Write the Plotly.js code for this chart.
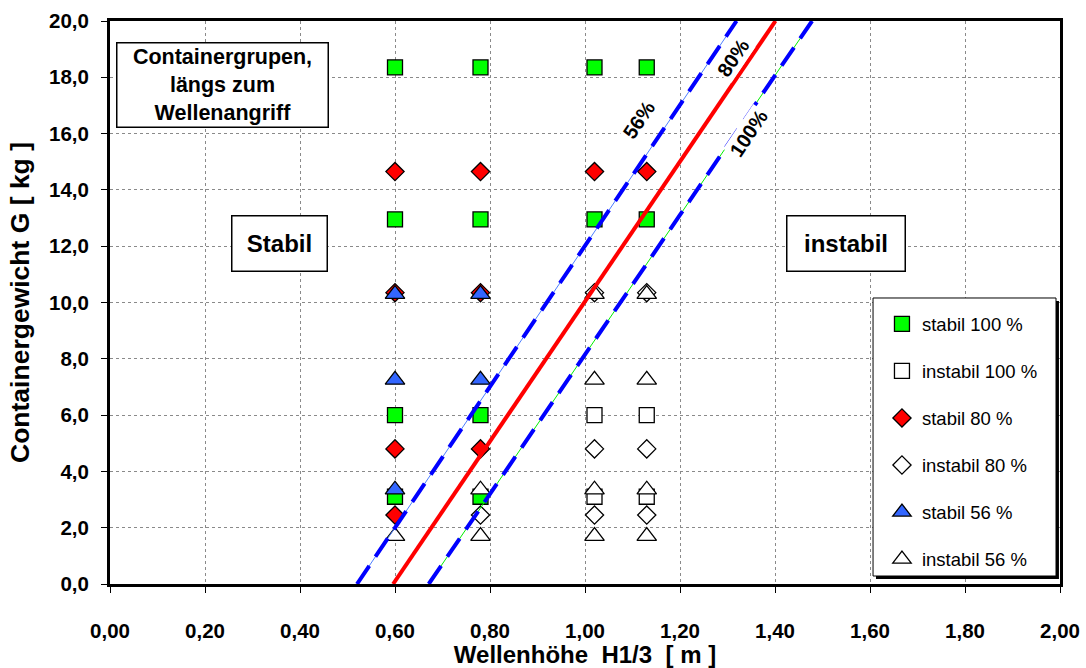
<!DOCTYPE html>
<html>
<head>
<meta charset="utf-8">
<script src="https://cdn.plot.ly/plotly-3.0.1.min.js"></script>
<style>html,body{margin:0;padding:0;background:#fff}#chart{width:1086px;height:668px}</style>
</head>
<body>
<div id="chart"></div>
<script>
// Series: [H1/3 (m), G (kg)]
const stabil100_H = [0.60, 0.60, 0.60, 0.60, 0.78, 0.78, 0.78, 0.78, 1.02, 1.02, 1.13, 1.13];
const stabil100_G = [18.35, 12.95, 6.0, 3.1, 18.35, 12.95, 6.0, 3.1, 18.35, 12.95, 18.35, 12.95];
const instabil100_H = [1.02, 1.02, 1.13, 1.13];
const instabil100_G = [6.0, 3.1, 6.0, 3.1];
const stabil80_H = [0.60, 0.60, 0.60, 0.60, 0.78, 0.78, 0.78, 1.02, 1.13];
const stabil80_G = [14.65, 10.35, 4.8, 2.45, 14.65, 10.35, 4.8, 14.65, 14.65];
const instabil80_H = [0.78, 1.02, 1.02, 1.02, 1.13, 1.13, 1.13];
const instabil80_G = [2.45, 10.35, 4.8, 2.45, 10.35, 4.8, 2.45];
const stabil56_H = [0.60, 0.60, 0.60, 0.78, 0.78];
const stabil56_G = [10.3, 7.25, 3.35, 10.3, 7.25];
const instabil56_H = [0.60, 0.78, 0.78, 1.02, 1.02, 1.02, 1.02, 1.13, 1.13, 1.13, 1.13];
const instabil56_G = [1.7, 3.35, 1.7, 10.3, 7.25, 3.35, 1.7, 10.3, 7.25, 3.35, 1.7];

// Stability limit lines
const lineG = [0, 20];
const line56_H = [0.520, 1.319];
const line80_H = [0.596, 1.401];
const line100_H = [0.671, 1.478];

const legendNames = ['stabil 100 %', 'instabil 100 %', 'stabil 80 %', 'instabil 80 %', 'stabil 56 %', 'instabil 56 %'];
const lineLabels = ['56%', '80%', '100%'];

const FONT = 'Liberation Sans, Arial, sans-serif';
const mline = {color: '#000', width: 1.3};

function mk(x, y, name, symbol, color, size, grp) {
  return {x: x, y: y, name: name, type: 'scatter', mode: 'markers', legendgroup: grp,
    marker: {symbol: symbol, size: size, color: color, line: mline}};
}

const traces = [
  mk(stabil100_H, stabil100_G, legendNames[0], 'square', '#00ff00', 15, 'a'),
  mk(instabil100_H, instabil100_G, legendNames[1], 'square', '#ffffff', 15, 'b'),
  mk(stabil80_H, stabil80_G, legendNames[2], 'diamond', '#ff0000', 14, 'c'),
  mk(instabil80_H, instabil80_G, legendNames[3], 'diamond', '#ffffff', 14, 'd'),
  mk(stabil56_H, stabil56_G, legendNames[4], 'triangle-up', '#3366ff', 17, 'e'),
  mk(instabil56_H, instabil56_G, legendNames[5], 'triangle-up', '#ffffff', 17, 'f'),
  {x: line56_H, y: lineG, mode: 'lines', showlegend: false, hoverinfo: 'skip', line: {color: '#4d7fff', width: 1}},
  {x: line56_H, y: lineG, mode: 'lines', showlegend: false, hoverinfo: 'skip', line: {color: '#0000ff', width: 4, dash: '22px,11px'}},
  {x: line80_H, y: lineG, mode: 'lines', showlegend: false, hoverinfo: 'skip', line: {color: '#ff0000', width: 4}},
  {x: line100_H, y: lineG, mode: 'lines', showlegend: false, hoverinfo: 'skip', line: {color: '#00ee00', width: 1}},
  {x: line100_H, y: lineG, mode: 'lines', showlegend: false, hoverinfo: 'skip', line: {color: '#0000ff', width: 4, dash: '22px,11px'}}
];

const boxAnn = (x, y, text, w, h, size) => ({
  x: x, y: y, xref: 'x', yref: 'y', text: text, showarrow: false,
  font: {family: FONT, size: size, color: '#000', weight: 'bold'},
  bgcolor: '#fff', bordercolor: '#000', borderwidth: 1.5, borderpad: 0,
  width: w, height: h, align: 'center', valign: 'middle'
});
const lblAnn = (x, y, text) => ({
  x: x, y: y, xref: 'x', yref: 'y', text: '<b>' + text + '</b>', showarrow: false,
  textangle: -56, font: {family: FONT, size: 20, color: '#000'}, bgcolor: '#fff', borderpad: 1
});

const layout = {
  width: 1086, height: 668,
  margin: {l: 110, r: 26, t: 21, b: 84},
  paper_bgcolor: '#fff', plot_bgcolor: '#fff',
  separators: ',.',
  font: {family: FONT, color: '#000'},
  xaxis: {
    range: [0, 2], dtick: 0.2, tick0: 0, tickformat: '.2f',
    showgrid: true, gridcolor: '#8a8a8a', griddash: 'dot', gridwidth: 1,
    zeroline: false, showline: true, linecolor: '#000', linewidth: 3, mirror: true,
    ticks: 'outside', ticklen: 6, tickwidth: 1, tickcolor: '#000',
    tickfont: {family: FONT, size: 20.5, color: '#000', weight: 'bold'},
    ticklabelstandoff: 20,
    title: {text: 'Wellenhöhe\u00a0\u00a0H1/3\u00a0\u00a0[ m ]', font: {family: FONT, size: 24, color: '#000', weight: 'bold'}, standoff: 6},
    automargin: false
  },
  yaxis: {
    range: [0, 20], dtick: 2, tick0: 0, tickformat: '.1f',
    showgrid: true, gridcolor: '#8a8a8a', griddash: 'dot', gridwidth: 1,
    zeroline: false, showline: true, linecolor: '#000', linewidth: 3, mirror: true,
    ticks: 'outside', ticklen: 6, tickwidth: 1, tickcolor: '#000',
    tickfont: {family: FONT, size: 20.5, color: '#000', weight: 'bold'},
    ticklabelstandoff: 8,
    title: {text: 'Containergewicht G [ kg ]', font: {family: FONT, size: 26.5, color: '#000', weight: 'bold'}, standoff: 12},
    automargin: false
  },
  showlegend: true,
  legend: {
    x: 0.8126, xanchor: 'left', y: 0.495, yanchor: 'top',
    bgcolor: 'rgba(0,0,0,0)', borderwidth: 0,
    font: {family: FONT, size: 18.5, color: '#000'},
    traceorder: 'grouped', tracegroupgap: 20
  },
  shapes: [
    {type: 'rect', xref: 'paper', yref: 'paper', x0: 0.8063, x1: 0.9989, y0: 0.0089, y1: 0.5027, fillcolor: '#000', line: {width: 0}, layer: 'above'},
    {type: 'rect', xref: 'paper', yref: 'paper', x0: 0.8032, x1: 0.9958, y0: 0.0142, y1: 0.508, fillcolor: '#fff', line: {color: '#000', width: 1}, layer: 'above'}
  ],
  annotations: [
    lblAnn(1.1137, 16.48, lineLabels[0]),
    lblAnn(1.3116, 18.69, lineLabels[1]),
    lblAnn(1.345, 16.02, lineLabels[2]),
    boxAnn(0.236, 17.71, 'Containergrupen,<br>längs zum<br>Wellenangriff', 210, 83, 21.5),
    boxAnn(0.357, 12.10, 'Stabil', 94, 54, 24),
    boxAnn(1.549, 12.10, 'instabil', 117, 54, 24)
  ]
};

Plotly.newPlot('chart', traces, layout, {staticPlot: true, displayModeBar: false});
</script>
</body>
</html>
